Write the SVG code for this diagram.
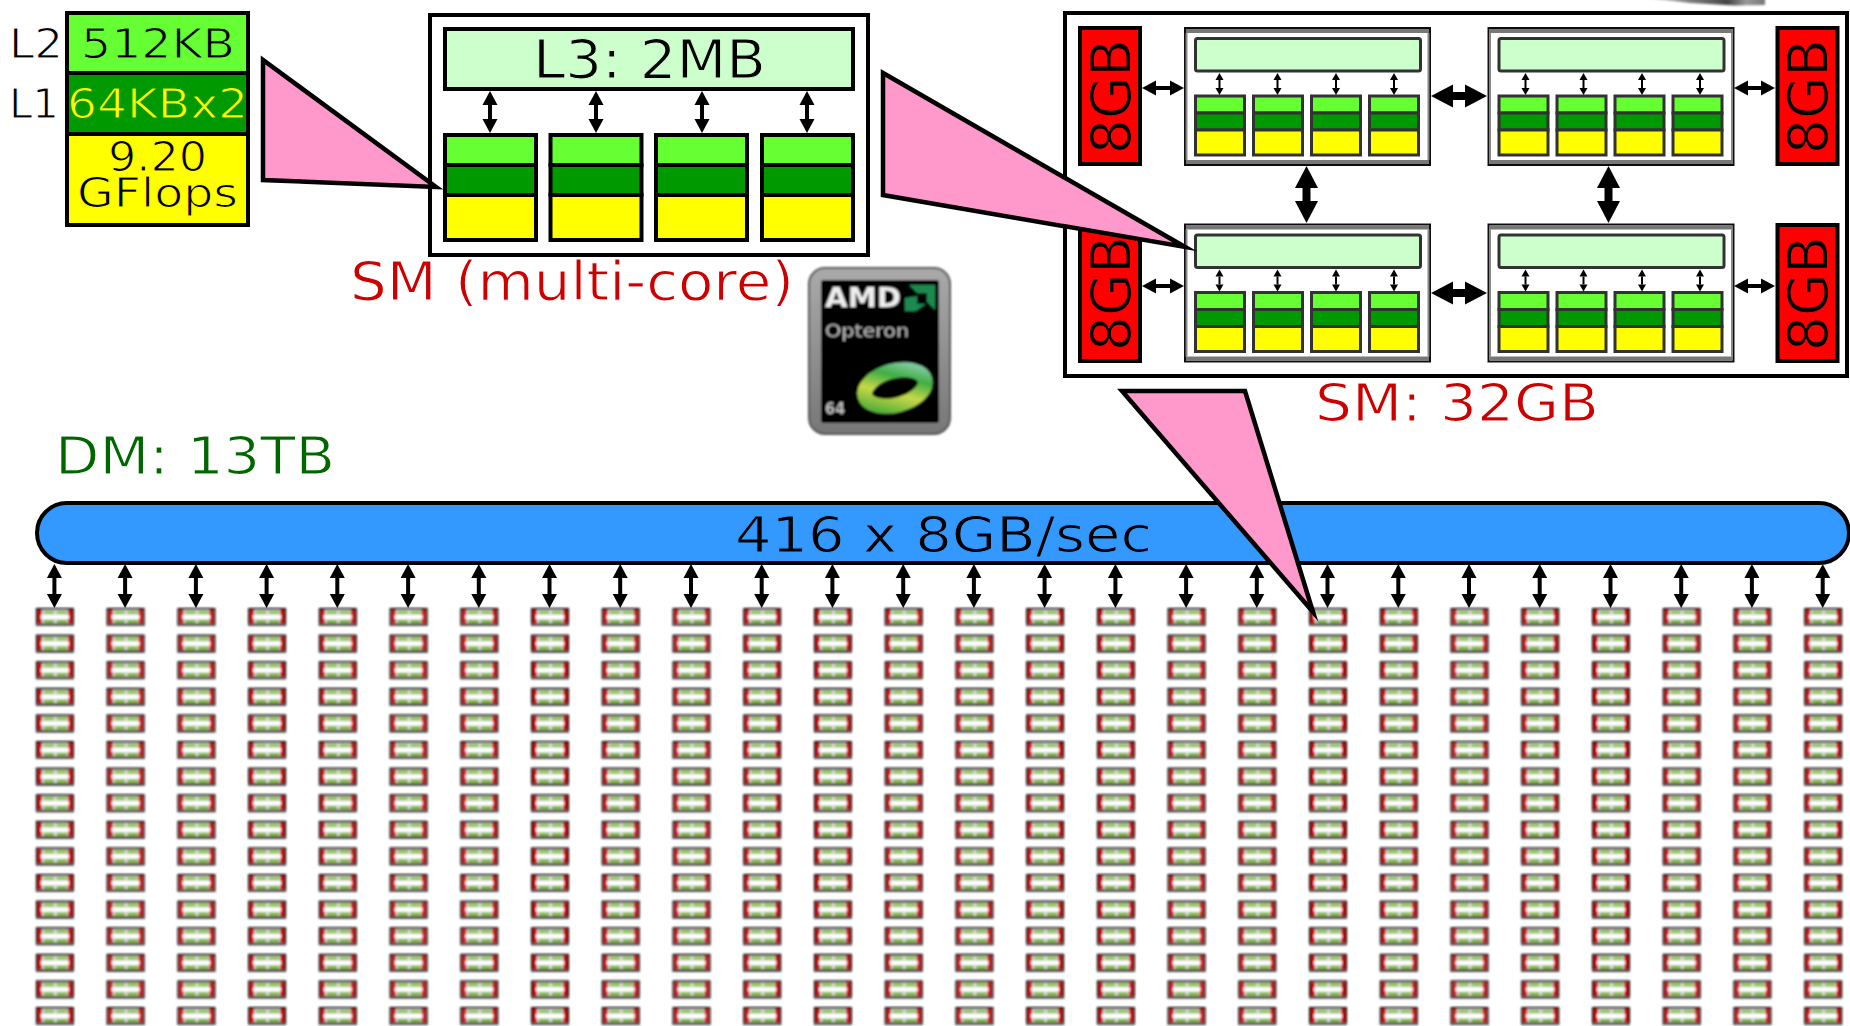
<svg xmlns="http://www.w3.org/2000/svg" xmlns:xlink="http://www.w3.org/1999/xlink" width="1850" height="1026" viewBox="0 0 1850 1026">
<style>
text{font-family:"DejaVu Sans","Liberation Sans",sans-serif;fill:#000;stroke:#fff;stroke-width:1.1}
.box{stroke:#000;stroke-width:4}
.l2{fill:#66ff33}.l1{fill:#009900}.fp{fill:#ffff00}.l3{fill:#ccffcc}
.pink{fill:#ff99cc;stroke:#000;stroke-width:4.5;stroke-miterlimit:30}
.mem{fill:#ff0000;stroke:#000;stroke-width:4}
.memt{stroke:#ff0000}
.a{stroke:#000;stroke-width:4;fill:none;marker-start:url(#ah);marker-end:url(#ah)}
.b{stroke:#000;stroke-width:8;fill:none;marker-start:url(#ahb);marker-end:url(#ahb)}
.s{stroke:#000;stroke-width:2;fill:none;marker-start:url(#ahs);marker-end:url(#ahs)}
.ql{fill:#ccffcc;stroke:#333;stroke-width:3}
.qc{stroke:#333;stroke-width:3}
.logo-t{stroke:none}
</style>
<defs>
<marker id="ah" markerUnits="userSpaceOnUse" orient="auto-start-reverse" refX="0" refY="0" overflow="visible" markerWidth="16" markerHeight="16"><path d="M0,-7.5L14,0L0,7.5Z" fill="#000"/></marker>
<marker id="ahb" markerUnits="userSpaceOnUse" orient="auto-start-reverse" refX="0" refY="0" overflow="visible" markerWidth="24" markerHeight="24"><path d="M0,-11.5L22,0L0,11.5Z" fill="#000"/></marker>
<marker id="ahs" markerUnits="userSpaceOnUse" orient="auto-start-reverse" refX="0" refY="0" overflow="visible" markerWidth="9" markerHeight="9"><path d="M0,-4L7,0L0,4Z" fill="#000"/></marker>
<filter id="blur1" filterUnits="userSpaceOnUse" x="0" y="0" width="1850" height="1026"><feGaussianBlur stdDeviation="0.9"/></filter>
<filter id="blur12" filterUnits="userSpaceOnUse" x="780" y="250" width="200" height="200"><feGaussianBlur stdDeviation="1.1"/></filter>
<filter id="blur05" filterUnits="userSpaceOnUse" x="-400" y="-400" width="2600" height="1800"><feGaussianBlur stdDeviation="0.5"/></filter>
<filter id="blur2" filterUnits="userSpaceOnUse" x="1500" y="-20" width="350" height="60"><feGaussianBlur stdDeviation="1.2"/></filter>
<linearGradient id="smear" x1="0" x2="1" y1="0" y2="0"><stop offset="0" stop-color="#ccc"/><stop offset="0.7" stop-color="#444"/><stop offset="0.85" stop-color="#999"/><stop offset="1" stop-color="#777"/></linearGradient>
<linearGradient id="torus" x1="0" x2="1" y1="1" y2="0"><stop offset="0" stop-color="#46a83a"/><stop offset="0.4" stop-color="#c8d848"/><stop offset="0.7" stop-color="#3fae45"/><stop offset="1" stop-color="#8ed0b0"/></linearGradient>
<linearGradient id="frame" x1="0" x2="0" y1="0" y2="1"><stop offset="0" stop-color="#aaa"/><stop offset="1" stop-color="#777"/></linearGradient>
<g id="quad">
<rect x="1185" y="28" width="245" height="137" fill="#fff" stroke="#111" stroke-width="2"/>
<rect x="1186" y="29" width="243" height="4" fill="#777"/>
<rect x="1186" y="160" width="243" height="4" fill="#777"/>
<path d="M1186.500,33V160M1428.500,33V160" stroke="#888" stroke-width="2"/>
<rect class="ql" x="1195.500" y="38.500" width="225" height="32.500" rx="2"/>
<g id="q-core">
<rect class="l2 qc" x="1195.500" y="96" width="49" height="17"/><rect class="l1 qc" x="1195.500" y="113" width="49" height="17"/><rect class="fp qc" x="1195.500" y="130" width="49" height="25"/>
</g>
<use href="#q-core" x="58"/><use href="#q-core" x="116"/><use href="#q-core" x="174"/>
</g>
<g id="quad-links">
<line class="s" x1="1219.500" y1="80" x2="1219.500" y2="88"/><line class="s" x1="1277.500" y1="80" x2="1277.500" y2="88"/><line class="s" x1="1336" y1="80" x2="1336" y2="88"/><line class="s" x1="1394" y1="80" x2="1394" y2="88"/>
</g>
<g id="tile">
<rect width="38" height="18" fill="#111"/>
<rect x="2" y="2" width="34" height="13.500" fill="#d8d8d8"/>
<rect x="2" y="2" width="4" height="13.500" fill="#c81010"/>
<rect x="32" y="2" width="4" height="13.500" fill="#c81010"/>
<rect x="8" y="3" width="10" height="3" fill="#8cc83c"/><rect x="21" y="3" width="10" height="3" fill="#8cc83c"/>
<rect x="8" y="12" width="10" height="3" fill="#78b820"/><rect x="21" y="12" width="10" height="3" fill="#78b820"/>
<rect x="5" y="7" width="28" height="4" fill="#fff"/>
<rect y="16" width="38" height="2" fill="#555"/>
</g>
<g id="col">
<use href="#tile" y="608"/><use href="#tile" y="634.600"/><use href="#tile" y="661.200"/><use href="#tile" y="687.800"/><use href="#tile" y="714.400"/><use href="#tile" y="741"/><use href="#tile" y="767.600"/><use href="#tile" y="794.200"/><use href="#tile" y="820.800"/><use href="#tile" y="847.400"/><use href="#tile" y="874"/><use href="#tile" y="900.600"/><use href="#tile" y="927.200"/><use href="#tile" y="953.800"/><use href="#tile" y="980.400"/><use href="#tile" y="1007"/>
</g>
</defs>
<rect width="1850" height="1026" fill="#fff"/>

<g id="smear-top"><path d="M1640,-3H1765V5L1735,5.500L1690,3Z" fill="url(#smear)" filter="url(#blur2)"/></g>

<g id="core-detail">
<rect class="box l2" x="67" y="13" width="181" height="60"/>
<rect class="box l1" x="67" y="73" width="181" height="61"/>
<rect class="box fp" x="67" y="134" width="181" height="91"/>
<text x="81" y="58" font-size="41" textLength="154" lengthAdjust="spacingAndGlyphs" style="stroke:#66ff33">512KB</text>
<text x="67" y="118" font-size="41" textLength="181" lengthAdjust="spacingAndGlyphs" style="fill:#ffff00;stroke:#009900">64KBx2</text>
<text x="108" y="171" font-size="41" textLength="99" lengthAdjust="spacingAndGlyphs" style="stroke:#ffff00">9.20</text>
<text x="77" y="207" font-size="41" textLength="161" lengthAdjust="spacingAndGlyphs" style="stroke:#ffff00">GFlops</text>
<text x="9" y="58" font-size="41" textLength="54" lengthAdjust="spacingAndGlyphs">L2</text>
<text x="9" y="118" font-size="41" textLength="50" lengthAdjust="spacingAndGlyphs">L1</text>
</g>

<g id="sm-multicore">
<rect class="box" x="430" y="15" width="438" height="240" fill="#fff"/>
<rect class="box l3" x="445" y="29" width="408" height="60"/>
<text x="533" y="78" font-size="54" textLength="233" lengthAdjust="spacingAndGlyphs" style="stroke:#ccffcc">L3: 2MB</text>
<g id="sm-core">
<rect class="box l2" x="445" y="135" width="91" height="30"/><rect class="box l1" x="445" y="165" width="91" height="30"/><rect class="box fp" x="445" y="195" width="91" height="45"/>
</g>
<use href="#sm-core" x="105.500"/><use href="#sm-core" x="211"/><use href="#sm-core" x="317"/>
</g>
<text id="label-sm" style="fill:#cc0000" x="350" y="300" font-size="54" textLength="444" lengthAdjust="spacingAndGlyphs">SM (multi-core)</text>

<g id="logo">
<g filter="url(#blur12)">
<rect x="809" y="268" width="141" height="166" rx="16" fill="url(#frame)" stroke="#555" stroke-width="2"/>
<rect x="821" y="280" width="118" height="143" rx="3" fill="#000"/>
<text class="logo-t" x="825" y="307" font-size="27" font-weight="bold" textLength="76" lengthAdjust="spacingAndGlyphs" style="fill:#eee">AMD</text>
<path d="M909,285H935V310L927,302V293H917ZM905,298L917,296V304H926L916,311H905Z" fill="#1a8a50"/>
<text class="logo-t" x="825" y="337" font-size="18" textLength="84" lengthAdjust="spacingAndGlyphs" style="fill:#bbb">Opteron</text>
<text class="logo-t" x="825" y="414" font-size="16" font-weight="bold" textLength="20" lengthAdjust="spacingAndGlyphs" style="fill:#bbb">64</text>
<ellipse cx="895" cy="388" rx="31" ry="17" transform="rotate(-15 895 388)" fill="none" stroke="url(#torus)" stroke-width="15"/>
</g>
</g>

<text id="label-dm" style="fill:#006600" x="55" y="474" font-size="52" textLength="280" lengthAdjust="spacingAndGlyphs">DM: 13TB</text>

<g id="sm-32gb">
<rect class="box" x="1065" y="13" width="782" height="363" fill="#fff"/>
<g id="mem-a"><rect class="mem" x="1080" y="28" width="60" height="136"/><text class="memt" transform="translate(1130,154) rotate(-90)" font-size="55" textLength="115" lengthAdjust="spacingAndGlyphs" style="stroke:#ff0000">8GB</text></g>
<g id="mem-b"><rect class="mem" x="1777.500" y="28" width="60" height="136"/><text transform="translate(1827,154) rotate(-90)" font-size="55" textLength="115" lengthAdjust="spacingAndGlyphs" style="stroke:#ff0000">8GB</text></g>
<g id="mem-c"><rect class="mem" x="1080" y="225" width="60" height="136"/><text transform="translate(1130,351) rotate(-90)" font-size="55" textLength="115" lengthAdjust="spacingAndGlyphs" style="stroke:#ff0000">8GB</text></g>
<g id="mem-d"><rect class="mem" x="1777.500" y="225" width="60" height="136"/><text transform="translate(1827,351) rotate(-90)" font-size="55" textLength="115" lengthAdjust="spacingAndGlyphs" style="stroke:#ff0000">8GB</text></g>
<g id="socket-a" filter="url(#blur05)"><use href="#quad"/></g>
<g id="socket-b" filter="url(#blur05)" transform="translate(303.500,0)"><use href="#quad"/></g>
<g id="socket-c" filter="url(#blur05)" transform="translate(0,196.500)"><use href="#quad"/></g>
<g id="socket-d" filter="url(#blur05)" transform="translate(303.500,196.500)"><use href="#quad"/></g>
</g>
<text id="label-32" style="fill:#cc0000" x="1315" y="421" font-size="52" textLength="284" lengthAdjust="spacingAndGlyphs">SM: 32GB</text>

<g id="bus">
<rect x="37" y="503" width="1812" height="60" rx="30" fill="#3399ff" stroke="#000" stroke-width="4"/>
<text x="735" y="552" font-size="50" textLength="417" lengthAdjust="spacingAndGlyphs" style="stroke:#3399ff">416 x 8GB/sec</text>
</g>

<g id="nodes" filter="url(#blur1)">
<use href="#col" x="35.900"/><use href="#col" x="106.600"/><use href="#col" x="177.400"/><use href="#col" x="248.100"/><use href="#col" x="318.800"/><use href="#col" x="389.600"/><use href="#col" x="460.300"/><use href="#col" x="531"/><use href="#col" x="601.700"/><use href="#col" x="672.500"/><use href="#col" x="743.200"/><use href="#col" x="813.900"/><use href="#col" x="884.700"/><use href="#col" x="955.400"/><use href="#col" x="1026.100"/><use href="#col" x="1096.900"/><use href="#col" x="1167.600"/><use href="#col" x="1238.300"/><use href="#col" x="1309"/><use href="#col" x="1379.800"/><use href="#col" x="1450.500"/><use href="#col" x="1521.200"/><use href="#col" x="1592"/><use href="#col" x="1662.700"/><use href="#col" x="1733.400"/><use href="#col" x="1804.200"/>
</g>

<g id="connectors">
<line class="a" x1="490" y1="105" x2="490" y2="119"/><line class="a" x1="596" y1="105" x2="596" y2="119"/><line class="a" x1="702" y1="105" x2="702" y2="119"/><line class="a" x1="807" y1="105" x2="807" y2="119"/>
<line class="a" x1="1156" y1="88" x2="1170" y2="88"/><line class="a" x1="1748" y1="88" x2="1761" y2="88"/><line class="a" x1="1156" y1="286" x2="1170" y2="286"/><line class="a" x1="1748" y1="286" x2="1761" y2="286"/>
<line class="b" x1="1453" y1="96" x2="1465" y2="96"/><line class="b" x1="1453" y1="293" x2="1465" y2="293"/>
<line class="b" x1="1306.500" y1="188" x2="1306.500" y2="201"/><line class="b" x1="1608.500" y1="188" x2="1608.500" y2="201"/>
<g filter="url(#blur05)"><use href="#quad-links"/><use href="#quad-links" x="306"/><use href="#quad-links" y="196.500"/><use href="#quad-links" x="306" y="196.500"/></g>
<line class="a" x1="54.400" y1="578" x2="54.400" y2="594"/><line class="a" x1="125.100" y1="578" x2="125.100" y2="594"/><line class="a" x1="195.900" y1="578" x2="195.900" y2="594"/><line class="a" x1="266.600" y1="578" x2="266.600" y2="594"/><line class="a" x1="337.300" y1="578" x2="337.300" y2="594"/><line class="a" x1="408.100" y1="578" x2="408.100" y2="594"/><line class="a" x1="478.800" y1="578" x2="478.800" y2="594"/><line class="a" x1="549.500" y1="578" x2="549.500" y2="594"/><line class="a" x1="620.200" y1="578" x2="620.200" y2="594"/><line class="a" x1="691" y1="578" x2="691" y2="594"/><line class="a" x1="761.700" y1="578" x2="761.700" y2="594"/><line class="a" x1="832.400" y1="578" x2="832.400" y2="594"/><line class="a" x1="903.200" y1="578" x2="903.200" y2="594"/><line class="a" x1="973.900" y1="578" x2="973.900" y2="594"/><line class="a" x1="1044.600" y1="578" x2="1044.600" y2="594"/><line class="a" x1="1115.400" y1="578" x2="1115.400" y2="594"/><line class="a" x1="1186.100" y1="578" x2="1186.100" y2="594"/><line class="a" x1="1256.800" y1="578" x2="1256.800" y2="594"/><line class="a" x1="1327.500" y1="578" x2="1327.500" y2="594"/><line class="a" x1="1398.300" y1="578" x2="1398.300" y2="594"/><line class="a" x1="1469" y1="578" x2="1469" y2="594"/><line class="a" x1="1539.700" y1="578" x2="1539.700" y2="594"/><line class="a" x1="1610.500" y1="578" x2="1610.500" y2="594"/><line class="a" x1="1681.200" y1="578" x2="1681.200" y2="594"/><line class="a" x1="1751.900" y1="578" x2="1751.900" y2="594"/><line class="a" x1="1822.700" y1="578" x2="1822.700" y2="594"/>
</g>

<g id="callouts">
<polygon class="pink" points="263,60 263,180 436,187"/>
<polygon class="pink" points="883,73 883,195 1185,247"/>
<polygon class="pink" points="1122,391 1245,391 1313,612"/>
</g>
</svg>
